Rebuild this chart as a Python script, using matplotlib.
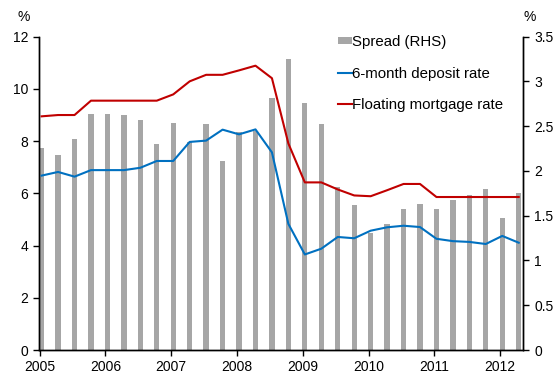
import matplotlib
matplotlib.use("Agg")
import matplotlib.pyplot as plt
from matplotlib.patches import Patch
from matplotlib.lines import Line2D
from matplotlib.ticker import FuncFormatter
import numpy as np

plt.rcParams['font.family'] = ['Liberation Sans', 'DejaVu Sans']
plt.rcParams['font.size'] = 10

# Quarterly observations, 2005Q1 - 2012Q2
quarters = [f"{y}Q{q}" for y in range(2005, 2013) for q in range(1, 5)][:30]
years = ["2005", "2006", "2007", "2008", "2009", "2010", "2011", "2012"]

spread = [2.26, 2.18, 2.36, 2.64, 2.64, 2.63, 2.57, 2.30, 2.54, 2.32,
          2.53, 2.11, 2.44, 2.45, 2.82, 3.25, 2.76, 2.53, 1.82, 1.62,
          1.31, 1.41, 1.58, 1.63, 1.58, 1.68, 1.73, 1.80, 1.48, 1.75]
mortgage = [8.95, 9.00, 9.00, 9.55, 9.55, 9.55, 9.55, 9.55, 9.79, 10.29,
            10.54, 10.54, 10.71, 10.89, 10.41, 7.91, 6.42, 6.42, 6.15, 5.92,
            5.89, 6.12, 6.36, 6.36, 5.86, 5.86, 5.86, 5.86, 5.86, 5.86]
deposit = [6.68, 6.82, 6.64, 6.89, 6.89, 6.89, 6.98, 7.24, 7.24, 7.97,
           8.02, 8.44, 8.26, 8.45, 7.57, 4.83, 3.66, 3.88, 4.33, 4.28,
           4.57, 4.70, 4.76, 4.71, 4.26, 4.17, 4.14, 4.06, 4.37, 4.11]

BAR = "#A6A6A6"
BLUE = "#0070C0"
RED = "#C00000"

x = np.arange(len(quarters))

fig = plt.figure(figsize=(5.56, 3.76), dpi=100)
ax = fig.add_axes([0.0707, 0.0691, 0.8705, 0.8333])
ax2 = ax.twinx()

# spread bars on the right-hand axis, drawn underneath the rate lines
ax2.bar(x, spread, width=0.32, color=BAR, zorder=1)
ax.plot(x, deposit, color=BLUE, lw=1.5, zorder=3)
ax.plot(x, mortgage, color=RED, lw=1.5, zorder=3)
ax.set_zorder(ax2.get_zorder() + 1)
ax.patch.set_visible(False)

ax.set_xlim(-0.14, 29.28)
ax.set_ylim(0, 12)
ax2.set_ylim(0, 3.5)
ax.set_yticks(np.arange(0, 13, 2))
ax2.set_yticks(np.arange(0, 3.51, 0.5))
ax2.yaxis.set_major_formatter(FuncFormatter(lambda v, p: f"{v:g}"))

ax.set_xticks(np.arange(len(years)) * 4 - 0.12)
ax.set_xticklabels(years)

for a in (ax, ax2):
    a.spines['top'].set_visible(False)
    for s in ('left', 'right', 'bottom'):
        a.spines[s].set_linewidth(1.0)
        a.spines[s].set_color('black')
    a.tick_params(direction='out', length=4, width=1.0, labelsize=10, colors='black')
ax.tick_params(axis='x', pad=3)
ax.tick_params(axis='y', pad=4)
ax2.tick_params(axis='y', pad=4)

fig.text(0.042, 0.955, "%", ha='center', va='center', fontsize=10)
fig.text(0.953, 0.955, "%", ha='center', va='center', fontsize=10)

handles = [Patch(facecolor=BAR, edgecolor='none'),
           Line2D([], [], color=BLUE, lw=1.5),
           Line2D([], [], color=RED, lw=1.5)]
labels = ["Spread (RHS)", "6-month deposit rate", "Floating mortgage rate"]
leg = ax.legend(handles, labels, loc='upper left', bbox_to_anchor=(0.608, 0.907),
                bbox_transform=fig.transFigure, frameon=False,
                handlelength=0.9, handleheight=0.42, handletextpad=0.05,
                labelspacing=1.17, borderpad=0, borderaxespad=0, fontsize=10.8)

fig.savefig("out.png", dpi=100)
